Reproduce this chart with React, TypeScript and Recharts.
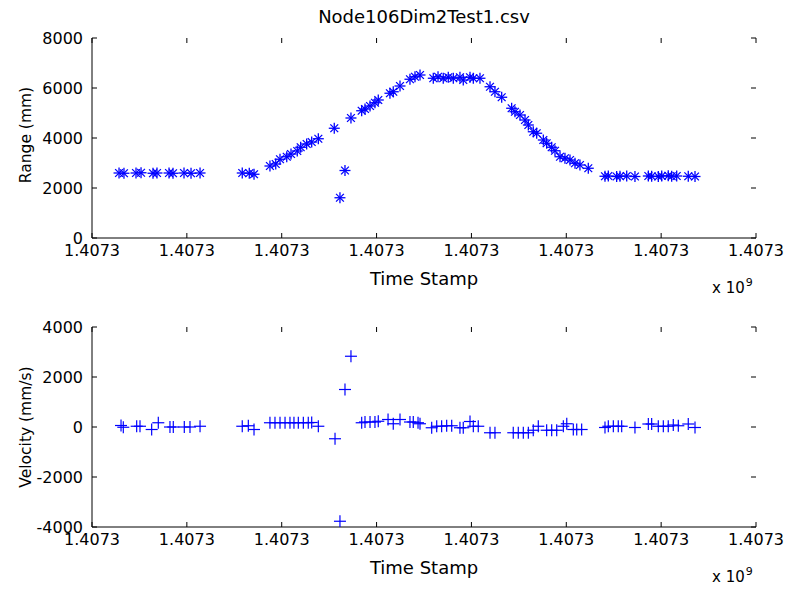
import React from 'react';
import { ScatterChart, Scatter, XAxis, YAxis } from 'recharts';

// time stamps, in tenths of one tick step (all ticks read 1.4073 x 10^9)
const rangeTime = [
  2.85, 3.37, 4.64, 5.17, 6.43, 6.85, 8.12, 8.54, 9.7, 10.44, 11.39,
  15.84, 16.58, 17.08,
  18.76, 19.37, 19.82, 20.53, 20.98, 21.64, 22.0, 22.63, 23.16, 23.86,
  25.54, 26.14, 26.67, 27.3, 28.43, 28.78, 29.31, 29.83, 30.18, 31.41, 31.76, 32.47, 33.52, 34.05, 34.58,
  35.98, 36.48, 37.03, 37.56, 38.09, 38.79, 39.14, 39.85, 40.2, 40.9,
  41.96, 42.48, 43.19, 44.24, 44.59, 45.12, 45.65, 46.0, 46.52, 46.88, 47.58, 47.93, 48.46, 48.81,
  49.34, 49.86, 50.39, 50.92, 51.44, 52.32,
  54.08, 54.43, 55.31, 55.66, 56.37, 57.24, 58.65, 59.0, 59.7, 60.06, 60.75, 61.11, 61.64, 62.86, 63.57,
];
const rangeMm = [
  2600, 2590, 2600, 2610, 2590, 2600, 2600, 2590, 2600, 2590, 2600,
  2600, 2590, 2550,
  2880, 2960, 3150, 3250, 3360, 3480, 3630, 3760, 3840, 3970,
  4390, 1610, 2700, 4800, 5090, 5160, 5280, 5410, 5520, 5790, 5850, 6080, 6350, 6450, 6520,
  6390, 6450, 6390, 6430, 6390, 6430, 6320, 6430, 6390, 6390,
  6050, 5850, 5630, 5190, 5050, 4920, 4720, 4520, 4250, 4190, 3920, 3790, 3630, 3490,
  3250, 3190, 3120, 2990, 2920, 2790,
  2470, 2480, 2460, 2470, 2480, 2460, 2480, 2470, 2460, 2480, 2490, 2470, 2480, 2470, 2460,
];

const velTime = [
  3.06, 3.3, 4.71, 5.06, 6.29, 6.99, 8.22, 8.57, 9.73, 10.33, 11.39,
  15.84, 16.48, 17.08,
  18.76, 19.29, 19.82, 20.35, 20.87, 21.29, 21.75, 22.28, 22.8, 23.16, 23.86,
  25.62, 26.14, 26.67, 27.3,
  28.43, 28.78, 29.31, 29.83, 30.18, 31.21, 31.76, 32.47, 33.52, 33.87, 34.37, 34.58,
  35.81, 36.34, 36.86, 37.39, 37.92, 38.79, 39.14, 39.85, 40.2, 40.72,
  41.96, 42.48, 44.41, 44.94, 45.47, 46.0, 46.52, 47.05, 47.93, 48.46, 48.99, 49.69, 50.05, 50.74, 51.1, 51.62,
  54.08, 54.43, 54.96, 55.48, 55.84, 57.24, 58.65, 59.0, 59.7, 60.23, 60.75, 61.28, 61.81, 62.86, 63.57,
];
const velMms = [
  60, -10, 30, 30, -100, 170, 0, 0, 0, 0, 30,
  30, 50, -100,
  170, 170, 170, 170, 170, 170, 170, 170, 170, 180, 30,
  -470, -3770, 1500, 2830,
  170, 200, 200, 200, 230, 300, 130, 300, 200, 200, 170, 130,
  -30, 30, 30, 50, 50, -30, -30, 220, 30, 30,
  -230, -230, -230, -230, -230, -230, -130, 30, -130, -130, -130, 30, 130, -100, -100, -100,
  -20, 30, 30, 30, 30, -20, 120, 120, 30, 30, 30, 80, 50, 120, -20,
];

const timeTicks = [0, 10, 20, 30, 40, 50, 60, 70];
const timeTickLabel = '1.4073';
const rangeTicks = [0, 2000, 4000, 6000, 8000];
const velTicks = [-4000, -2000, 0, 2000, 4000];

const rangeData = rangeTime.map((t, i) => ({ t, v: rangeMm[i] }));
const velData = velTime.map((t, i) => ({ t, v: velMms[i] }));

const FONT = '"DejaVu Sans", Verdana, sans-serif';
const BLUE = '#0000ff';
const TICK_LEN = 5;
const X_MARGIN = 2;
const Y_MARGIN = 4;
const PLOT_W = 664;
const PLOT_H = 200;

const Asterisk = (props: any) => {
  const { cx, cy } = props;
  const r = 5.5;
  const d = 3.9;
  return (
    <g stroke={BLUE} strokeWidth={1.3}>
      <line x1={cx - r} y1={cy} x2={cx + r} y2={cy} />
      <line x1={cx} y1={cy - r} x2={cx} y2={cy + r} />
      <line x1={cx - d} y1={cy - d} x2={cx + d} y2={cy + d} />
      <line x1={cx - d} y1={cy + d} x2={cx + d} y2={cy - d} />
    </g>
  );
};

const Plus = (props: any) => {
  const { cx, cy } = props;
  const r = 6;
  return (
    <g stroke={BLUE} strokeWidth={1.2}>
      <line x1={cx - r} y1={cy} x2={cx + r} y2={cy} />
      <line x1={cx} y1={cy - r} x2={cx} y2={cy + r} />
    </g>
  );
};

// bottom labels plus inward tick marks on both bottom and top edges of the box
const BottomTick = (props: any) => {
  const { x, y } = props;
  const y0 = y - TICK_LEN - X_MARGIN;
  const yTop = y0 - PLOT_H;
  return (
    <g>
      <line x1={x} x2={x} y1={y0} y2={y0 - TICK_LEN} stroke="#000" />
      <line x1={x} x2={x} y1={yTop} y2={yTop + TICK_LEN} stroke="#000" />
      <text x={x} y={y} dy="0.71em" textAnchor="middle" fill="#000" fontSize={16} fontFamily={FONT}>
        {timeTickLabel}
      </text>
    </g>
  );
};

// left labels plus inward tick marks on both left and right edges of the box
const LeftTick = (props: any) => {
  const { x, y, payload } = props;
  const x0 = x + TICK_LEN + Y_MARGIN;
  const xRight = x0 + PLOT_W;
  return (
    <g>
      <line x1={x0} x2={x0 + TICK_LEN} y1={y} y2={y} stroke="#000" />
      <line x1={xRight} x2={xRight - TICK_LEN} y1={y} y2={y} stroke="#000" />
      <text x={x} y={y} dy="0.36em" textAnchor="end" fill="#000" fontSize={16} fontFamily={FONT}>
        {payload.value}
      </text>
    </g>
  );
};

const Panel = ({ data, yTicks, yDomain, shape, top }: any) => (
  <ScatterChart
    width={789}
    height={300}
    margin={{ top, right: 33, bottom: 300 - top - PLOT_H - 30, left: 32 }}
    style={{ position: 'absolute', left: 0, top: 0 }}
  >
    <XAxis
      xAxisId={0}
      type="number"
      dataKey="t"
      domain={[0, 70]}
      ticks={timeTicks}
      interval={0}
      height={30}
      tickSize={TICK_LEN}
      tickMargin={X_MARGIN}
      tickLine={false}
      tick={<BottomTick />}
      axisLine={{ stroke: '#000' }}
      allowDataOverflow
    />
    <XAxis
      xAxisId="top"
      orientation="top"
      type="number"
      dataKey="t"
      domain={[0, 70]}
      height={0}
      tick={false}
      tickLine={false}
      axisLine={{ stroke: '#000' }}
      allowDataOverflow
    />
    <YAxis
      yAxisId={0}
      type="number"
      dataKey="v"
      domain={yDomain}
      ticks={yTicks}
      interval={0}
      width={60}
      tickSize={TICK_LEN}
      tickMargin={Y_MARGIN}
      tickLine={false}
      tick={<LeftTick />}
      axisLine={{ stroke: '#000' }}
      allowDataOverflow
    />
    <YAxis
      yAxisId="right"
      orientation="right"
      type="number"
      dataKey="v"
      domain={yDomain}
      width={0}
      tick={false}
      tickLine={false}
      axisLine={{ stroke: '#000' }}
      allowDataOverflow
    />
    <Scatter data={data} xAxisId={0} yAxisId={0} shape={shape} isAnimationActive={false} />
  </ScatterChart>
);

const textStyle: React.CSSProperties = {
  position: 'absolute',
  fontFamily: FONT,
  color: '#000',
  whiteSpace: 'nowrap',
  lineHeight: 1,
};

const YLabel = ({ text, cy }: any) => (
  <div
    style={{
      ...textStyle,
      fontSize: 15.5,
      left: 27,
      top: cy,
      transform: 'translate(-50%, -50%) rotate(-90deg)',
    }}
  >
    {text}
  </div>
);

const XLabel = ({ top }: any) => (
  <div style={{ ...textStyle, fontSize: 18, left: 424, top, transform: 'translateX(-50%)' }}>Time Stamp</div>
);

const Exponent = ({ top }: any) => (
  <div style={{ ...textStyle, fontSize: 15, left: 712, top }}>
    x 10<span style={{ fontSize: 11, position: 'relative', top: -7, marginLeft: 1 }}>9</span>
  </div>
);

export default function App() {
  return (
    <div
      style={{
        position: 'absolute',
        left: 0,
        top: 0,
        width: 789,
        height: 591,
        background: '#fff',
        overflow: 'hidden',
      }}
    >
      <div style={{ ...textStyle, fontSize: 18, left: 424, top: 8, transform: 'translateX(-50%)' }}>
        Node106Dim2Test1.csv
      </div>

      <div style={{ position: 'absolute', left: 0, top: 0, width: 789, height: 300 }}>
        <Panel data={rangeData} yTicks={rangeTicks} yDomain={[0, 8000]} shape={Asterisk} top={38} />
      </div>
      <YLabel text="Range (mm)" cy={135} />
      <XLabel top={270} />
      <Exponent top={281} />

      <div style={{ position: 'absolute', left: 0, top: 290, width: 789, height: 300 }}>
        <Panel data={velData} yTicks={velTicks} yDomain={[-4000, 4000]} shape={Plus} top={37} />
      </div>
      <YLabel text="Velocity (mm/s)" cy={427} />
      <XLabel top={559} />
      <Exponent top={570} />
    </div>
  );
}
